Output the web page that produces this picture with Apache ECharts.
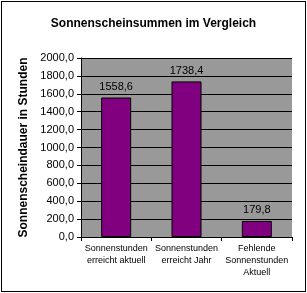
<!DOCTYPE html>
<html><head><meta charset="utf-8">
<script src="https://cdn.jsdelivr.net/npm/echarts@6/dist/echarts.min.js"></script>
<style>html,body{margin:0;padding:0;background:#fff}#c{width:307px;height:293px;position:relative}
#b{position:absolute;left:1px;top:1px;width:303px;height:289px;border:1px solid #000;box-sizing:content-box;pointer-events:none}</style>
</head><body><div id="c"></div><div id="b"></div>
<script>
const categories = ["Sonnenstunden\nerreicht aktuell", "Sonnenstunden\nerreicht Jahr", "Fehlende\nSonnenstunden\nAktuell"];
const values = [1558.6, 1738.4, 179.8];
const chart = echarts.init(document.getElementById('c'), null, {renderer:'canvas'});
const fmt = v => v.toFixed(1).replace('.', ',');
chart.setOption({
  animation:false,
  backgroundColor:'#fff',
  textStyle:{fontFamily:'Liberation Sans, Arial, sans-serif'},
  title:{text:'Sonnenscheinsummen im Vergleich', left:'center', top:13,
    textStyle:{fontSize:12, fontWeight:'bold', color:'#000', fontFamily:'Liberation Sans, Arial, sans-serif'}},
  grid:{left:81, right:15, top:58, bottom:56, show:true, backgroundColor:'#999999', borderColor:'#808080', borderWidth:0},
  xAxis:{type:'category', data:categories,
    axisLine:{lineStyle:{color:'#000'}},
    axisTick:{show:true, length:4, lineStyle:{color:'#000'}},
    axisLabel:{fontSize:9, color:'#000', lineHeight:12, margin:6, interval:0}},
  yAxis:{type:'value', min:0, max:2000, interval:200,
    name:'Sonnenscheindauer in Stunden', nameLocation:'middle', nameRotate:90, nameGap:48,
    nameTextStyle:{fontSize:12, fontWeight:'bold', color:'#000'},
    axisLine:{show:true, lineStyle:{color:'#000'}},
    axisTick:{show:true, length:4, lineStyle:{color:'#000'}},
    splitLine:{show:true, lineStyle:{color:'#000', width:1}},
    axisLabel:{fontSize:11, color:'#000', margin:7, formatter:fmt}},
  series:[{type:'bar', data:values, barWidth:30,
    itemStyle:{color:'#800080', borderColor:'#000', borderWidth:1},
    label:{show:true, position:'top', distance:5, fontSize:11, color:'#000', formatter:p=>fmt(p.value)}}]
});
</script></body></html>
